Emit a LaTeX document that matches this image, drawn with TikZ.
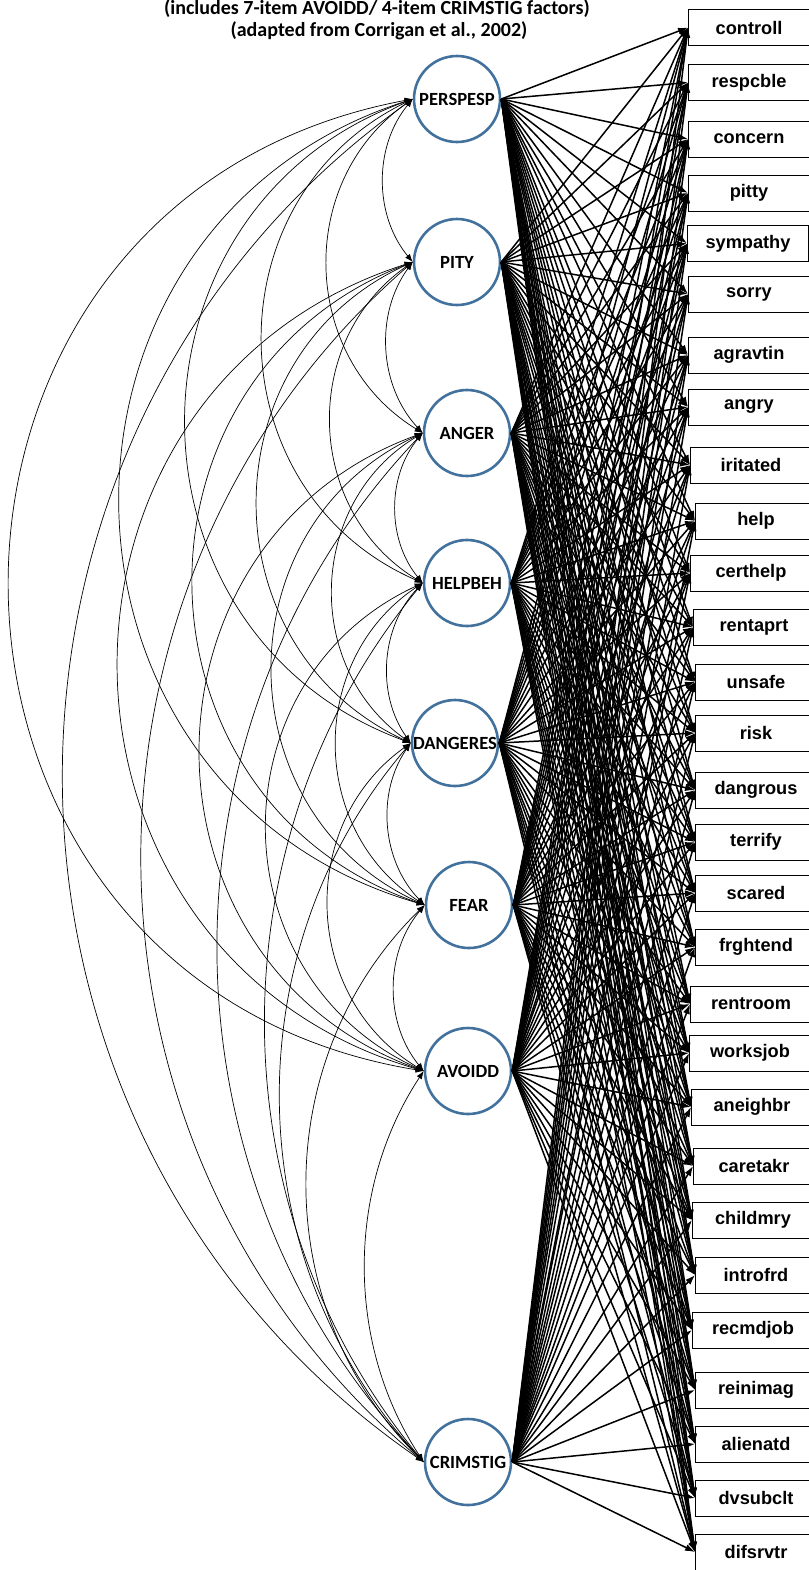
\documentclass[tikz,border=0pt]{standalone}
\usepackage{fontspec}
\setmainfont{Carlito}
\newfontfamily\arialfont{Liberation Sans}
\usetikzlibrary{arrows.meta}

\definecolor{circblue}{RGB}{65,113,156}
\tikzset{
  factor/.style={circle, draw=circblue, line width=1.3pt, minimum size=43pt,
    inner sep=0pt, font=\fontsize{9.3}{9.3}\selectfont\bfseries},
  indic/.style={draw, line width=0.45pt, minimum width=60.5pt, minimum height=18pt,
    inner sep=0pt, font=\arialfont\fontsize{9.1}{9.1}\selectfont\bfseries},
  heading/.style={anchor=base, font=\fontsize{10}{10}\selectfont\bfseries},
  load/.style={-{Latex[length=5pt,width=3.5pt]}, line width=0.75pt},
  cov/.style={{Latex[length=4pt,width=3pt]}-{Latex[length=4pt,width=3pt]}, line width=0.35pt},
}

\begin{document}
\begin{tikzpicture}[x=0.5pt, y=-0.5pt]
  \useasboundingbox (0,0) rectangle (809,1570);
  \clip (0,0) rectangle (809,1570);

  % title
  \node[heading] (t1) at (377,14) {(includes 7-item AVOIDD/ 4-item CRIMSTIG factors)};
  \node[heading] (t2) at (379,36) {(adapted from Corrigan et al., 2002)};

  % latent factors
  \node[factor] (pp) at (457,99) {PERSPESP};
  \node[factor] (pity) at (457,262) {PITY};
  \node[factor] (anger) at (467,433) {ANGER};
  \node[factor] (helpbeh) at (467,583) {HELPBEH};
  \node[factor] (dangeres) at (455,743) {DANGERES};
  \node[factor] (fear) at (469,905) {FEAR};
  \node[factor] (avoidd) at (468,1071) {AVOIDD};
  \node[factor] (crimstig) at (468,1462) {CRIMSTIG};

  % observed items
  \foreach \nm/\cx/\cy in {controll/749/27.5, respcble/749/82.5, concern/749/139,
      pitty/749/193, sympathy/748/243.5, sorry/749/294, agravtin/749/355,
      angry/749/407, iritated/751/465, help/756/521, certhelp/751/573,
      rentaprt/754/627, unsafe/756/682, risk/756/733, dangrous/756/790,
      terrify/756/842, scared/756/893, frghtend/756/947, rentroom/751/1004,
      worksjob/750/1053, aneighbr/752/1107, caretakr/754/1166, childmry/753/1220,
      introfrd/756/1275, recmdjob/753/1330, reinimag/756/1390, alienatd/756/1444,
      dvsubclt/756/1498, difsrvtr/756/1552}
    \node[indic] (\nm) at (\cx,\cy) {\nm};

  % loadings: every factor to every item
  \foreach \f in {pp,pity,anger,helpbeh,dangeres,fear,avoidd,crimstig}
    \foreach \v in {controll,respcble,concern,pitty,sympathy,sorry,agravtin,angry,
        iritated,help,certhelp,rentaprt,unsafe,risk,dangrous,terrify,scared,
        frghtend,rentroom,worksjob,aneighbr,caretakr,childmry,introfrd,recmdjob,
        reinimag,alienatd,dvsubclt,difsrvtr}
      \draw[load] (\f.east) -- (\v.west);

  % covariances between factors
  \foreach \a/\b/\r in {pp/pity/0.18, pp/anger/0.27, pp/helpbeh/0.32, pp/dangeres/0.35,
      pp/fear/0.37, pp/avoidd/0.42, pp/crimstig/0.26,
      pity/anger/0.18, pity/helpbeh/0.27, pity/dangeres/0.32, pity/fear/0.35,
      pity/avoidd/0.37, pity/crimstig/0.23,
      anger/helpbeh/0.18, anger/dangeres/0.27, anger/fear/0.32, anger/avoidd/0.35,
      anger/crimstig/0.20,
      helpbeh/dangeres/0.18, helpbeh/fear/0.27, helpbeh/avoidd/0.32, helpbeh/crimstig/0.18,
      dangeres/fear/0.18, dangeres/avoidd/0.27, dangeres/crimstig/0.19,
      fear/avoidd/0.18, fear/crimstig/0.21,
      avoidd/crimstig/0.15}
  {
    \pgfmathsetmacro{\ang}{2*atan(2*\r)}
    \pgfmathsetmacro{\loose}{(1+4*\r*\r)/1.1745}
    \draw[cov] (\a.west) to[bend right=\ang, looseness=\loose] (\b.west);
  }
\end{tikzpicture}
\end{document}
